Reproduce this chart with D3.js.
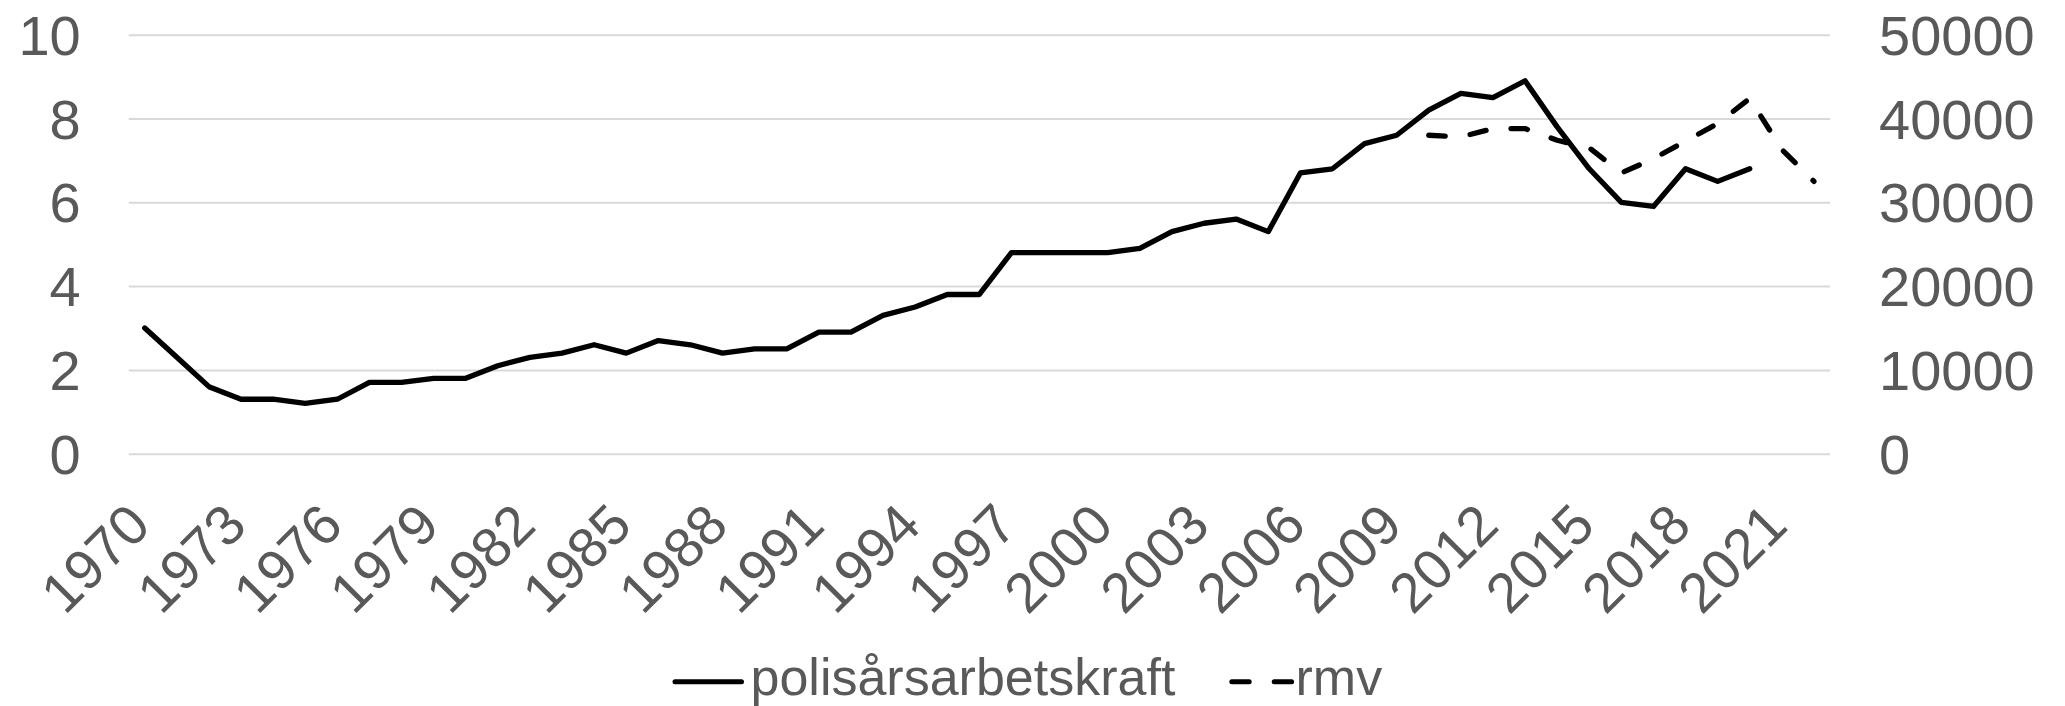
<!DOCTYPE html>
<html><head><meta charset="utf-8">
<script src="https://cdn.jsdelivr.net/npm/d3@7"></script>
<style>
body{margin:0;background:#fff}
svg{display:block}
text{font-family:"Liberation Sans",Arial,sans-serif;fill:#595959}
</style>
</head><body>
<svg id="c" width="2065" height="706"></svg>
<script>
const years = [1970,1971,1972,1973,1974,1975,1976,1977,1978,1979,1980,1981,1982,1983,1984,1985,1986,1987,1988,1989,
  1990,1991,1992,1993,1994,1995,1996,1997,1998,1999,2000,2001,2002,2003,2004,2005,2006,2007,2008,2009,
  2010,2011,2012,2013,2014,2015,2016,2017,2018,2019,2020,2021,2022];
const polis = [3.0,2.3,1.6,1.3,1.3,1.2,1.3,1.7,1.7,1.8,1.8,2.1,2.3,2.4,2.6,2.4,2.7,2.6,2.4,2.5,
  2.5,2.9,2.9,3.3,3.5,3.8,3.8,4.8,4.8,4.8,4.8,4.9,5.3,5.5,5.6,5.3,6.7,6.8,7.4,7.6,
  8.2,8.6,8.5,8.9,7.8,6.8,6.0,5.9,6.8,6.5,6.8,null,null];
const rmv = [null,null,null,null,null,null,null,null,null,null,null,null,null,null,null,null,null,null,null,null,
  null,null,null,null,null,null,null,null,null,null,null,null,null,null,null,null,null,null,null,null,
  38000,37800,38800,38800,37400,36500,33500,35200,37300,39400,42400,36300,32500];
const leftTicks = [0,2,4,6,8,10];
const rightTicks = [0,10000,20000,30000,40000,50000];
const xTickYears = [1970,1973,1976,1979,1982,1985,1988,1991,1994,1997,2000,2003,2006,2009,2012,2015,2018,2021];
const seriesNames = ["polisårsarbetskraft","rmv"];

const svg = d3.select("#c");
const plot = {left:128.7, right:1830, top:34.7, bottom:453.7};
const fs = 56;
const ff = '"Liberation Sans",Arial,sans-serif';

const x = d3.scaleBand().domain(years).range([plot.left, plot.right]).padding(0);
const cx = yr => x(yr) + x.bandwidth()/2;
const yL = d3.scaleLinear().domain([0,10]).range([plot.bottom, plot.top]);
const yR = d3.scaleLinear().domain([0,50000]).range([plot.bottom, plot.top]);

// gridlines + left labels
const gl = svg.append("g").attr("transform", `translate(${plot.left},0)`)
  .call(d3.axisLeft(yL).tickValues(leftTicks).tickSize(-(plot.right-plot.left)).tickPadding(48).tickFormat(d3.format("d")));
gl.select(".domain").remove();
gl.selectAll(".tick line").attr("stroke","#d9d9d9").attr("stroke-width",2);
gl.selectAll(".tick text").attr("font-size",fs).attr("fill","#595959").attr("dy","0.35em").style("font-family",ff);

// right labels
const gr = svg.append("g").attr("transform", `translate(${plot.right},0)`)
  .call(d3.axisRight(yR).tickValues(rightTicks).tickSize(0).tickPadding(49).tickFormat(d3.format("d")));
gr.select(".domain").remove();
gr.selectAll(".tick text").attr("font-size",fs).attr("fill","#595959").attr("dy","0.35em").style("font-family",ff);

// x labels
svg.append("g").selectAll("text").data(xTickYears).join("text")
  .attr("transform", d => `translate(${cx(d)+8},528) rotate(-45)`)
  .attr("text-anchor","end").attr("font-size",fs).text(d => d);

// lines
const idx = years.map((d,i)=>i);
const lineL = d3.line().defined(i => polis[i] != null).x(i => cx(years[i])).y(i => yL(polis[i]));
const lineR = d3.line().defined(i => rmv[i] != null).x(i => cx(years[i])).y(i => yR(rmv[i]));
svg.append("path").attr("d", lineL(idx)).attr("fill","none").attr("stroke","#000")
  .attr("stroke-width",5.3).attr("stroke-linejoin","round").attr("stroke-linecap","round");
svg.append("path").attr("d", lineR(idx)).attr("fill","none").attr("stroke","#000")
  .attr("stroke-width",5.3).attr("stroke-linejoin","round").attr("stroke-linecap","round")
  .attr("stroke-dasharray","16.5,25.2");

// legend
const lg = svg.append("g");
lg.append("line").attr("x1",675).attr("x2",741.5).attr("y1",681.7).attr("y2",681.7)
  .attr("stroke","#000").attr("stroke-width",5).attr("stroke-linecap","round");
lg.append("text").attr("x",750.5).attr("y",695.3).attr("font-size",52).text(seriesNames[0]);
lg.append("line").attr("x1",1231.8).attr("x2",1291.6).attr("y1",681.7).attr("y2",681.7)
  .attr("stroke","#000").attr("stroke-width",5).attr("stroke-linecap","round").attr("stroke-dasharray","17.4,25");
lg.append("text").attr("x",1295.5).attr("y",695.3).attr("font-size",52).text(seriesNames[1]);
</script>
</body></html>
